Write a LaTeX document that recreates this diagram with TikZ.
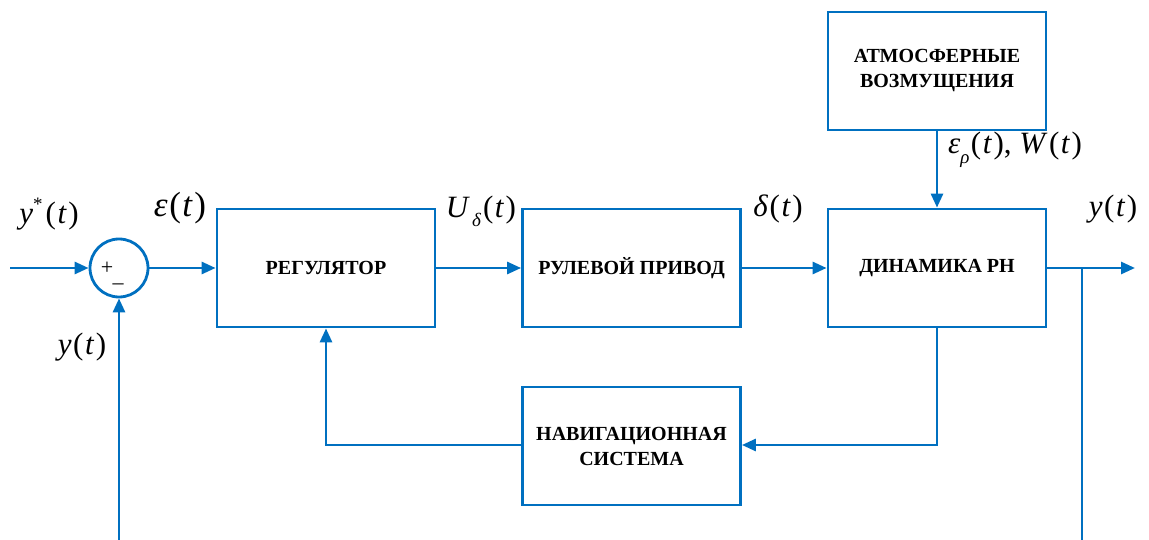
\documentclass[tikz,border=0pt]{standalone}
\usepackage{fontspec}
\setmainfont{Liberation Serif}
\usetikzlibrary{arrows.meta}
\definecolor{lineblue}{RGB}{0,112,192}
\newcommand{\sig}[1]{\fontsize{31}{34}\selectfont #1}
\newcommand{\sml}[1]{{\fontsize{19}{19}\selectfont #1}}
\newcommand{\gp}{\kern1.5pt}
\tikzset{
  wire/.style={draw=lineblue, line width=2.8pt},
  flow/.style={wire, -{Triangle[length=14pt,width=12pt]}},
  block/.style={draw=lineblue, line width=2.8pt, minimum width=218pt, minimum height=118pt,
    align=center, font=\fontsize{20}{25}\selectfont\bfseries, inner sep=0pt},
  sumnode/.style={draw=lineblue, line width=2.8pt, circle, minimum size=58pt, inner sep=0pt},
  siglabel/.style={inner sep=0pt},
  signmark/.style={inner sep=0pt, font=\fontsize{22}{22}\selectfont}
}
\begin{document}
\begin{tikzpicture}[x=1pt, y=-1pt]
\useasboundingbox (0,0) rectangle (1149,540);

% blocks
\node[block] (reg) at (326,268) {РЕГУЛЯТОР};
\node[block] (drv) at (631.5,268) {РУЛЕВОЙ ПРИВОД};
\node[block] (dyn) at (937,268) {ДИНАМИКА РН};
\node[block] (atm) at (937,71) {АТМОСФЕРНЫЕ\\ВОЗМУЩЕНИЯ};
\node[block] (nav) at (631.5,446) {НАВИГАЦИОННАЯ\\СИСТЕМА};

% summing junction
\node[sumnode] (sum) at (119,268) {};
\node[signmark, anchor=base] (plus) at (107,274) {+};
\node[signmark, anchor=base] (minus) at (118,290) {\textendash};

% free ends of the wires
\coordinate (in) at (10,268);
\coordinate (out) at (1135,268);
\coordinate (tap) at (1082,268);
\coordinate (tapend) at (1082,541);
\coordinate (fbend) at (119,541);
\coordinate (dynturn) at (937,445);
\coordinate (navturn) at (326,445);

% forward path
\draw[flow] (in) -- (sum.west);
\draw[flow] (sum.east) -- (reg.west);
\draw[flow] (reg.east) -- (drv.west);
\draw[flow] (drv.east) -- (dyn.west);
\draw[flow] (dyn.east) -- (out);
\draw[flow] (atm.south) -- (dyn.north);

% feedback paths
\draw[wire] (tap) -- (tapend);
\draw[flow] (fbend) -- (sum.south);
\draw[flow] (dyn.south) -- (dynturn) -- (nav.east |- dynturn);
\draw[flow] (nav.west |- navturn) -- (navturn) -- (reg.south);

% signal labels
\node[siglabel] (ystar) at (49,214) {\sig{\textit{y}\raisebox{0.42em}{\sml{*}}\kern3pt(\gp\textit{t}\gp)}};
\node[siglabel] (eps) at (180,208) {\fontsize{35}{38}\selectfont \textit{ε}\gp(\gp\textit{t}\gp)};
\node[siglabel] (yfb) at (82,347) {\sig{\textit{y}\gp(\gp\textit{t}\gp)}};
\node[siglabel] (ud) at (481,211) {\sig{\textit{U}\raisebox{-0.3em}{\sml{\kern2pt\textit{δ}}}\kern2pt(\gp\textit{t}\gp)}};
\node[siglabel] (del) at (778,209) {\sig{\textit{δ}\gp(\gp\textit{t}\gp)}};
\node[siglabel] (dist) at (1015,150) {\sig{\textit{ε}\raisebox{-0.32em}{\sml{\textit{ρ}}}\gp(\gp\textit{t}\gp), \textit{W}\gp(\gp\textit{t}\gp)}};
\node[siglabel] (yout) at (1113,209) {\sig{\textit{y}\gp(\gp\textit{t}\gp)}};
\end{tikzpicture}
\end{document}
